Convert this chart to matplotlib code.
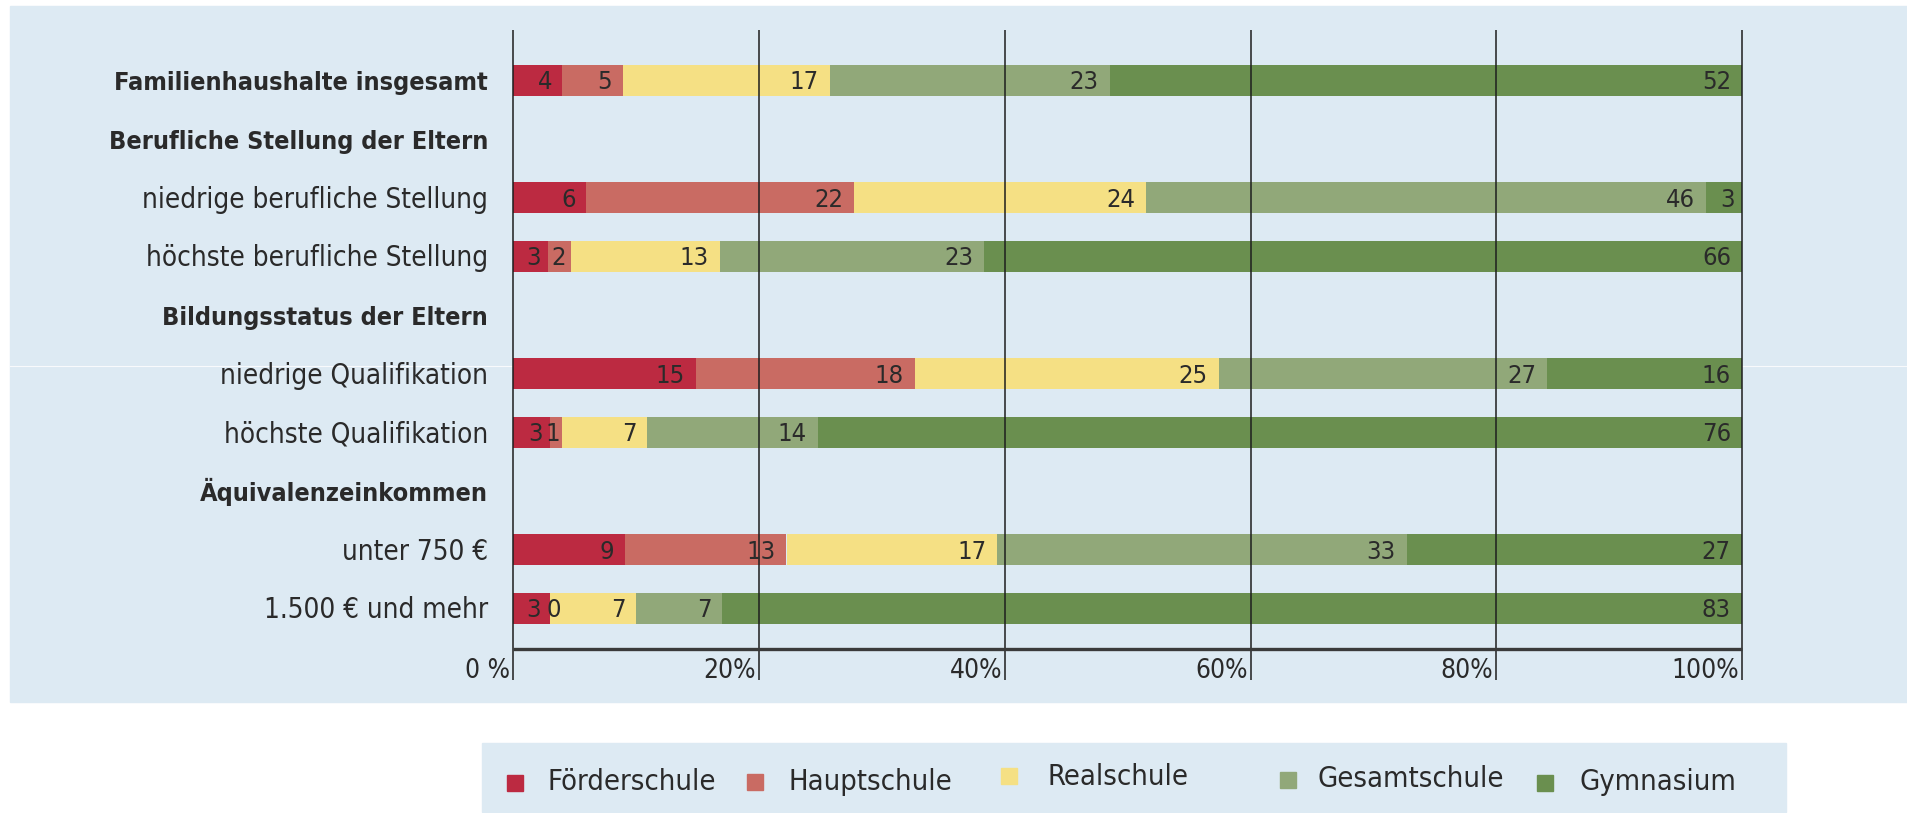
import numpy as np
import matplotlib
matplotlib.use("Agg")
import matplotlib.pyplot as plt
from matplotlib.patches import Rectangle
from matplotlib.lines import Line2D
import matplotlib.font_manager as fm

# ---------------- data ----------------
categories = ["Familienhaushalte insgesamt", "Berufliche Stellung der Eltern",
              "niedrige berufliche Stellung", "höchste berufliche Stellung",
              "Bildungsstatus der Eltern", "niedrige Qualifikation",
              "höchste Qualifikation", "Äquivalenzeinkommen",
              "unter 750 €", "1.500 € und mehr"]
is_heading = [True, True, False, False, True, False, False, True, False, False]
school_types = ["Förderschule", "Hauptschule", "Realschule", "Gesamtschule", "Gymnasium"]
nan = np.nan
foerderschule = [4, nan, 6, 3, nan, 15, 3, nan, 9, 3]
hauptschule = [5, nan, 22, 2, nan, 18, 1, nan, 13, 0]
realschule = [17, nan, 24, 13, nan, 25, 7, nan, 17, 7]
gesamtschule = [23, nan, 46, 23, nan, 27, 14, nan, 33, 7]
gymnasium = [52, nan, 3, 66, nan, 16, 76, nan, 27, 83]
tick_values = [0, 20, 40, 60, 80, 100]
tick_labels = ["0 %", "20%", "40%", "60%", "80%", "100%"]

colors = ["#BC2A41", "#C96B63", "#F5E084", "#91A879", "#6A8F4F"]
bg = "#DDEAF3"
txt = "#2a2a2a"

# ---------------- font ----------------
names = {f.name for f in fm.fontManager.ttflist}
if "Liberation Sans Narrow" in names:
    FONT = dict(family="Liberation Sans Narrow")
else:
    FONT = dict(family="DejaVu Sans", stretch="condensed")

W, H = 1908, 813
fig = plt.figure(figsize=(W / 100, H / 100), dpi=100)
fig.patch.set_facecolor("white")
fig.canvas.draw()
R = fig.canvas.get_renderer()


def fit(text, target, weight="normal", base=20.0):
    t = fig.text(0, 0, text, fontsize=base, fontweight=weight, **FONT)
    w = t.get_window_extent(R).width
    t.remove()
    return base * target / w


fs_cat = fit("niedrige berufliche Stellung", 345)
fs_head = fit("Familienhaushalte insgesamt", 374, weight="bold")
fs_leg = fit("Förderschule", 168)
fs_tick = fs_cat * 0.95
fs_num = fs_cat * 0.92

# background panel
fig.patches.append(Rectangle((10 / W, (H - 702) / H), (W - 10) / W, (702 - 6) / H,
                             transform=fig.transFigure, color=bg, zorder=-10))
# scan artifact line
fig.add_artist(Line2D([10 / W, 1], [(H - 366) / H] * 2, color="white", lw=0.8, alpha=0.8,
                      zorder=-5))

# axes geometry in pixels (from top)
row0_px, row_step = 80.3, (608.4 - 80.3) / 9
ax_l, ax_r, ax_t, ax_b = 513.5, 1742, 30, 680


def ydat(px):
    return (px - row0_px) / row_step


ax = fig.add_axes([ax_l / W, (H - ax_b) / H, (ax_r - ax_l) / W, (ax_b - ax_t) / H])
ax.patch.set_visible(False)
ax.set_xlim(0, 100)
ax.set_ylim(ydat(ax_b), ydat(ax_t))
ax.axis("off")

series = [foerderschule, hauptschule, realschule, gesamtschule, gymnasium]
data = np.array(series, dtype=float)
n = len(categories)
ypos = np.arange(n)
totals = np.nansum(data, axis=0)

for i in range(n):
    if np.all(np.isnan(data[:, i])):
        continue
    left = 0.0
    for k in range(5):
        v = data[k, i]
        w = v / totals[i] * 100
        ax.barh(ypos[i], w, left=left, height=0.537, color=colors[k], zorder=2, linewidth=0)
        end = left + w
        seg_px = w / 100 * (ax_r - ax_l)
        if v == 0:
            ax.annotate(f"{int(v)}", xy=(end, ypos[i]), xytext=(-4, -9),
                        textcoords="offset pixels", ha="left", va="baseline",
                        fontsize=fs_num, color=txt, zorder=4, **FONT)
        else:
            nxt_zero = k + 1 < 5 and data[k + 1, i] == 0
            pad = 9 if nxt_zero else min(11, 0.2 * seg_px)
            ax.annotate(f"{int(v)}", xy=(end, ypos[i]), xytext=(-pad, -9),
                        textcoords="offset pixels", ha="right", va="baseline",
                        fontsize=fs_num, color=txt, zorder=4, **FONT)
        left = end

# category labels
for i, cat in enumerate(categories):
    ax.annotate(cat, xy=(0, ypos[i]), xytext=(-25.5, -10), textcoords="offset pixels",
                ha="right", va="baseline", fontsize=fs_head if is_heading[i] else fs_cat,
                color=txt, fontweight="bold" if is_heading[i] else "normal", **FONT)

# grid lines (above bars)
for t in tick_values:
    ax.plot([t, t], [ydat(ax_t), ydat(ax_b)], color="#1e1e1e", lw=1.1, zorder=3,
            clip_on=False, solid_capstyle="butt")
# x axis line
ax.plot([0, 100], [ydat(649.5)] * 2, color="#3a3a3a", lw=2.4, zorder=3, clip_on=False,
        solid_capstyle="butt")
# tick labels
for t, lab in zip(tick_values, tick_labels):
    ax.annotate(lab, xy=(t, ydat(678)), xytext=(-3, 0), textcoords="offset pixels",
                ha="right", va="baseline", fontsize=fs_tick, color=txt, **FONT)

# legend box
fig.patches.append(Rectangle((482 / W, 1 / H), (1786 - 482) / W, (812 - 743) / H,
                             transform=fig.transFigure, color=bg, zorder=-10))
leg_marker = [(515, 783), (755.5, 782), (1009, 776), (1288, 780), (1545, 783)]
leg_text_x = [548, 789, 1047, 1318, 1580]
leg_base = [790, 790, 785, 787, 790]
for k, name in enumerate(school_types):
    mx, my = leg_marker[k]
    fig.patches.append(Rectangle(((mx - 8) / W, (H - my - 8) / H), 16 / W, 16 / H,
                                 transform=fig.transFigure, color=colors[k], zorder=2))
    fig.text(leg_text_x[k] / W, (H - leg_base[k]) / H, name, ha="left", va="baseline",
             fontsize=fs_leg, color=txt, **FONT)

fig.savefig("out.png", dpi=100, facecolor="white")
